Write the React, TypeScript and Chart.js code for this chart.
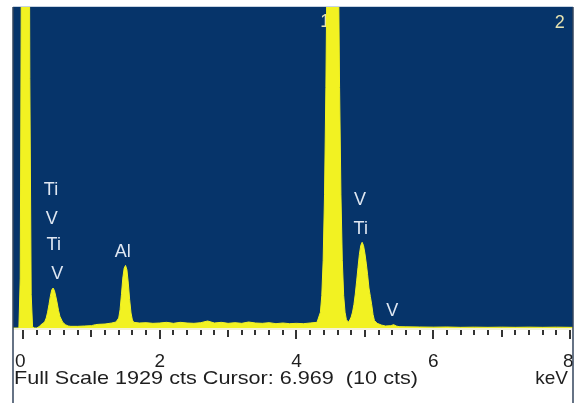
import React, { useEffect, useRef } from "react";
import { Chart, registerables } from "chart.js";

Chart.register(...registerables);

// EDS spectrum: energy (keV) vs counts
const energies = [
  -0.16, -0.06, -0.04, -0.02, 0.0, 0.04, 0.08, 0.1, 0.12, 0.14, 0.16, 0.2,
  0.22, 0.24, 0.26, 0.28, 0.3, 0.32, 0.34, 0.36, 0.38, 0.4, 0.42, 0.44, 0.46,
  0.48, 0.5, 0.52, 0.54, 0.58, 0.62, 0.66, 0.7, 0.8, 0.9, 1.0, 1.06, 1.1, 1.2,
  1.3, 1.36, 1.4, 1.42, 1.44, 1.46, 1.48, 1.5, 1.52, 1.54, 1.56, 1.58, 1.6,
  1.62, 1.7, 1.8, 1.9, 2.0, 2.1, 2.2, 2.3, 2.4, 2.5, 2.6, 2.7, 2.8, 2.9, 3.0,
  3.1, 3.2, 3.3, 3.4, 3.5, 3.6, 3.7, 3.8, 3.9, 4.0, 4.1, 4.2, 4.3, 4.35, 4.37,
  4.39, 4.41, 4.43, 4.45, 4.47, 4.49, 4.51, 4.53, 4.55, 4.57, 4.59, 4.61,
  4.63, 4.65, 4.67, 4.69, 4.71, 4.73, 4.76, 4.78, 4.8, 4.82, 4.84, 4.86, 4.88,
  4.9, 4.92, 4.94, 4.96, 4.98, 5.0, 5.02, 5.04, 5.06, 5.08, 5.1, 5.12, 5.14,
  5.18, 5.24, 5.3, 5.38, 5.42, 5.46, 5.5, 5.6, 5.8, 6.0, 6.2, 6.4, 6.6, 6.8,
  7.0, 7.2, 7.4, 7.6, 7.8, 8.0, 8.1,
];
const counts = [
  0, 0, 300, 2600, 5200, 6000, 4200, 1500, 200, 10, 0, 0,
  4, 10, 18, 25, 30, 40, 60, 95, 140, 190, 228, 240, 225,
  190, 150, 105, 70, 35, 20, 12, 10, 10, 12, 14, 20, 22, 24,
  30, 36, 60, 110, 200, 300, 360, 376, 350, 270, 170, 90, 48,
  34, 30, 32, 28, 30, 34, 28, 34, 30, 28, 32, 42, 30, 34, 28,
  32, 28, 36, 30, 28, 32, 26, 30, 26, 28, 26, 30, 34, 95, 195,
  405, 800, 1445, 2350, 3440, 4520, 5330, 5630, 5330, 4520, 3440, 2350,
  1445, 800, 405, 195, 95, 50, 35, 48, 66, 96, 141, 204, 283,
  365, 443, 496, 515, 496, 450, 390, 320, 240, 190, 140, 80, 45,
  28, 18, 12, 14, 20, 12, 8, 7, 6, 5, 6, 4, 5, 4,
  5, 4, 5, 4, 5, 4, 4,
];

const fullScale = 1929;
const majorTicks = [0, 2, 4, 6, 8];
const tickLabels = ["0", "2", "4", "6", "8"];
const minorStep = 0.2;
const footerText = "Full Scale 1929 cts Cursor: 6.969  (10 cts)";
const unitText = "keV";

// element markers: label, energy (keV), height (counts)
const markerText = ["Ti", "V", "Ti", "V", "Al", "V", "Ti", "V"];
const markerEnergy = [0.41, 0.42, 0.45, 0.5, 1.46, 4.93, 4.94, 5.4];
const markerLevel = [829, 655, 499, 325, 457, 769, 595, 102];

// cursor markers
const cursorText = ["1", "2"];
const cursorEnergy = [4.42, 7.85];
const cursorLevel = [1840, 1833];

const BLUE = "rgb(6,52,106)";
const YELLOW = "rgb(242,242,34)";
const FONT = '"Liberation Sans", Arial, sans-serif';

export default function App() {
  const ref = useRef<HTMLCanvasElement | null>(null);

  useEffect(() => {
    const canvas = ref.current;
    if (!canvas) return;

    const framePlugin = {
      id: "frame",
      beforeDraw(chart: any) {
        const { ctx, chartArea: a } = chart;
        ctx.save();
        ctx.fillStyle = "#ffffff";
        ctx.fillRect(0, 0, chart.width, chart.height);
        ctx.fillStyle = BLUE;
        ctx.fillRect(a.left, a.top, a.right - a.left, a.bottom - a.top);
        ctx.restore();
      },
      beforeDatasetsDraw(chart: any) {
        const { ctx, scales } = chart;
        ctx.save();
        ctx.font = `18px ${FONT}`;
        ctx.textAlign = "center";
        ctx.textBaseline = "middle";
        ctx.fillStyle = "#e6e2b0";
        cursorText.forEach((t, i) => {
          ctx.fillText(
            t,
            scales.x.getPixelForValue(cursorEnergy[i]),
            scales.y.getPixelForValue(cursorLevel[i])
          );
        });
        ctx.restore();
      },
      afterDraw(chart: any) {
        const { ctx, chartArea: a, scales } = chart;
        const xs = scales.x;
        const ys = scales.y;
        ctx.save();

        // element labels
        ctx.font = `18px ${FONT}`;
        ctx.textAlign = "center";
        ctx.textBaseline = "middle";
        ctx.fillStyle = "#dfe7f2";
        markerText.forEach((t, i) => {
          ctx.fillText(
            t,
            xs.getPixelForValue(markerEnergy[i]),
            ys.getPixelForValue(markerLevel[i])
          );
        });

        // light base line under the plot
        ctx.fillStyle = "#f4f2d8";
        ctx.fillRect(a.left, a.bottom, a.right - a.left, 2);

        // ticks
        ctx.strokeStyle = "#333333";
        ctx.lineWidth = 2;
        const nMinor = Math.round(8 / minorStep);
        for (let k = 0; k <= nMinor; k++) {
          const v = k * minorStep;
          const x = Math.round(xs.getPixelForValue(v));
          const isMajor = majorTicks.some((m) => Math.abs(m - v) < 1e-6);
          const isOdd = Math.abs(v - Math.round(v)) < 1e-6;
          const len = isMajor ? 9 : isOdd ? 7 : 5;
          ctx.beginPath();
          ctx.moveTo(x, a.bottom + 2);
          ctx.lineTo(x, a.bottom + 2 + len);
          ctx.stroke();
        }

        // tick labels
        ctx.fillStyle = "#1e1e1e";
        ctx.font = `19px ${FONT}`;
        ctx.textBaseline = "alphabetic";
        majorTicks.forEach((m, i) => {
          const x = xs.getPixelForValue(m);
          if (i === 0) {
            ctx.textAlign = "left";
            ctx.fillText(tickLabels[i], a.left + 2, 367);
          } else if (i === majorTicks.length - 1) {
            ctx.textAlign = "right";
            ctx.fillText(tickLabels[i], a.right + 0.5, 367);
          } else {
            ctx.textAlign = "center";
            ctx.fillText(tickLabels[i], x, 367);
          }
        });

        // footer line
        ctx.font = `19px ${FONT}`;
        ctx.textAlign = "left";
        const w = ctx.measureText(footerText).width;
        const target = 404;
        ctx.save();
        ctx.translate(a.left + 1, 0);
        ctx.scale(target / w, 1);
        ctx.fillText(footerText, 0, 384);
        ctx.restore();
        ctx.textAlign = "right";
        ctx.fillText(unitText, a.right - 5, 384);

        // frame
        ctx.strokeStyle = "#34465e";
        ctx.lineWidth = 1.5;
        ctx.beginPath();
        ctx.moveTo(a.left, a.top);
        ctx.lineTo(a.left, chart.height);
        ctx.moveTo(a.right, a.top);
        ctx.lineTo(a.right, chart.height);
        ctx.stroke();
        ctx.strokeStyle = "#c6d3e2";
        ctx.lineWidth = 1;
        ctx.beginPath();
        ctx.moveTo(a.left, a.top - 0.5);
        ctx.lineTo(a.right, a.top - 0.5);
        ctx.stroke();

        ctx.restore();
      },
    };

    const chart = new Chart(canvas, {
      type: "line",
      data: {
        datasets: [
          {
            data: energies.map((e, i) => ({ x: e, y: counts[i] })),
            borderColor: YELLOW,
            backgroundColor: YELLOW,
            borderWidth: 1,
            pointRadius: 0,
            tension: 0,
            fill: "origin",
          },
        ],
      },
      options: {
        responsive: false,
        animation: false,
        events: [],
        layout: { padding: { left: 13, right: 9, top: 7, bottom: 75 } },
        plugins: {
          legend: { display: false },
          tooltip: { enabled: false },
        },
        scales: {
          x: { type: "linear", min: -0.146, max: 8.044, display: false },
          y: { type: "linear", min: 0, max: fullScale, display: false },
        },
      },
      plugins: [framePlugin],
    });

    return () => chart.destroy();
  }, []);

  return (
    <div style={{ position: "absolute", left: 0, top: 0, width: 582, height: 403 }}>
      <canvas ref={ref} width={582} height={403} />
    </div>
  );
}
